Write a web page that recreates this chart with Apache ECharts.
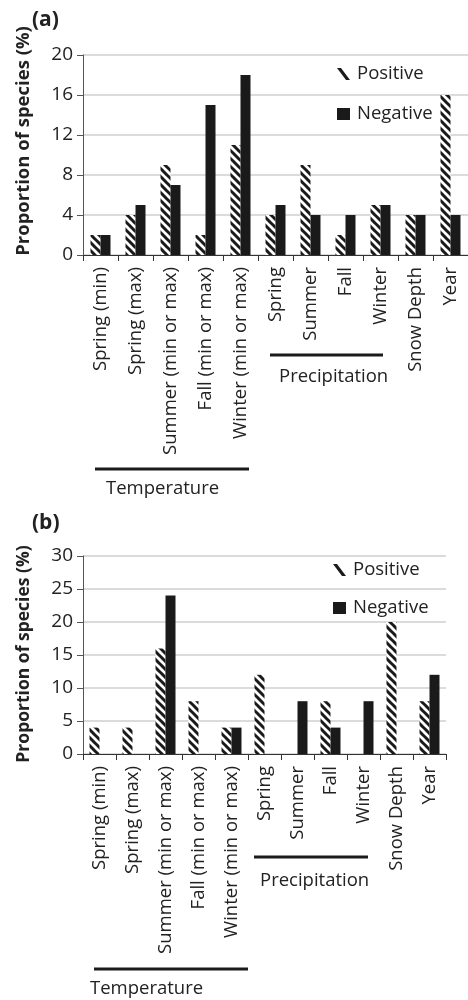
<!DOCTYPE html>
<html><head><meta charset="utf-8">
<script src="https://cdn.jsdelivr.net/npm/echarts@6/dist/echarts.min.js"></script>
<style>html,body{margin:0;padding:0;background:#fff}#c{width:468px;height:1000px}</style>
</head><body><div id="c"></div>
<script>
const categories = ['Spring (min)','Spring (max)','Summer (min or max)','Fall (min or max)','Winter (min or max)','Spring','Summer','Fall','Winter','Snow Depth','Year'];
const positiveA = [2,4,9,2,11,4,9,2,5,4,16];
const negativeA = [2,5,7,15,18,5,4,4,5,4,4];
const positiveB = [4,4,16,8,4,12,0,8,0,20,8];
const negativeB = [0,0,24,0,4,0,8,4,8,0,12];
const yMaxA = 20, yStepA = 4;
const yMaxB = 30, yStepB = 5;
const seriesNames = ['Positive','Negative'];
const panelLabels = ['(a)','(b)'];
const yTitle = 'Proportion of species (%)';
const groupLabels = ['Temperature','Precipitation'];

const FONT = '"Open Sans", sans-serif';

function hatch(){
  const s = 8;
  const c = document.createElement('canvas');
  c.width = s; c.height = s;
  const g = c.getContext('2d');
  g.fillStyle = '#fff'; g.fillRect(0,0,s,s);
  g.strokeStyle = '#1a1a1a'; g.lineWidth = 3;
  g.beginPath();
  for (let k=-1;k<=1;k++){ g.moveTo(k*s-1, -1); g.lineTo(k*s+s+1, s+1); }
  g.stroke();
  return c;
}
const hatchFill = {image: hatch(), repeat: 'repeat'};
const slashIcon = 'path://M0,0 L4,0 L13,12 L9,12 Z';

const chart = echarts.init(document.getElementById('c'), null, {renderer:'canvas'});

function xAx(gi){
  return {
    type:'category', gridIndex: gi, data: categories,
    axisLine:{lineStyle:{color:'#333', width:1}},
    axisTick:{show:true, alignWithLabel:false, length:6, lineStyle:{color:'#333'}},
    axisLabel:{rotate:90, margin:12, fontSize:18.5, color:'#222', fontFamily:FONT, interval:0}
  };
}
function yAx(gi, max, step){
  return {
    type:'value', gridIndex: gi, min:0, max:max, interval:step,
    axisLine:{show:true, lineStyle:{color:'#555'}},
    axisTick:{show:true, length:6, lineStyle:{color:'#555'}},
    axisLabel:{fontSize:19, color:'#222', fontFamily:FONT, margin:10},
    splitLine:{lineStyle:{color:'#cfcfcf', width:1.5}}
  };
}
function bars(name, data, gi, color){
  return {type:'bar', name:name, xAxisIndex:gi, yAxisIndex:gi, data:data,
    barWidth:10, barGap:'0%', itemStyle:{color:color}, silent:true, animation:false};
}
function legend(left, top, gap){
  return {left:left, top:top, padding:0, orient:'vertical', itemWidth:13, itemHeight:12, itemGap:gap,
    data:[{name:seriesNames[0], icon:slashIcon, itemStyle:{color:'#1a1a1a'}},
          {name:seriesNames[1], icon:'rect', itemStyle:{color:'#1a1a1a'}}],
    textStyle:{fontSize:18.5, color:'#222', fontFamily:FONT, lineHeight:20, padding:[0,0,0,2]}};
}
function txt(x,y,t,size,bold,rot){
  return {type:'text', x:x, y:y, rotation:rot||0, silent:true,
    style:{text:t, fontSize:size, fontWeight:bold?'bold':'normal', fontFamily:FONT, fill:'#222',
      align: rot? 'center':'left', verticalAlign:'middle'}};
}
function ln(x1,x2,y){
  return {type:'line', shape:{x1:x1,y1:y,x2:x2,y2:y}, style:{stroke:'#1a1a1a', lineWidth:3}, silent:true};
}

chart.setOption({
  animation:false,
  grid:[{left:83, top:55, width:385, height:200},{left:83, top:556, width:363, height:198}],
  xAxis:[xAx(0), xAx(1)],
  yAxis:[yAx(0,yMaxA,yStepA), yAx(1,yMaxB,yStepB)],
  legend:[legend(337,64,20), legend(333,560,18)],
  series:[
    bars(seriesNames[0], positiveA, 0, hatchFill),
    bars(seriesNames[1], negativeA, 0, '#1a1a1a'),
    bars(seriesNames[0], positiveB, 1, hatchFill),
    bars(seriesNames[1], negativeB, 1, '#1a1a1a')
  ],
  graphic:[
    txt(32,20,panelLabels[0],21,true),
    txt(32,523,panelLabels[1],21,true),
    txt(24,141,yTitle,18.5,true,Math.PI/2),
    txt(24,654,yTitle,17.5,true,Math.PI/2),
    ln(95,249,469), txt(106,489,groupLabels[0],18.5,false),
    ln(270,383,355), txt(279,377,groupLabels[1],18.5,false),
    ln(94,248,969), txt(90,989,groupLabels[0],18.5,false),
    ln(254,368,857), txt(260,881,groupLabels[1],18.5,false)
  ]
});
</script></body></html>
